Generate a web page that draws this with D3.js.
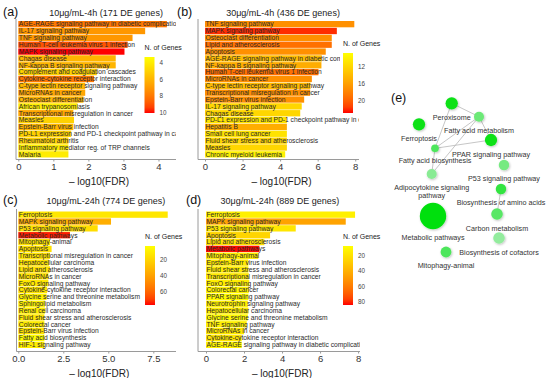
<!DOCTYPE html>
<html>
  <head>
    <script src="https://d3js.org/d3.v7.min.js"></script>
    <style>
      body { margin: 0; background: #fff; }
      text { font-family: Arial, "Liberation Sans", sans-serif; }
    </style>
  </head>
  <body>
    <script>
      var width = 550;
      var height = 378;

      // ---- data ----
      var termsA = ["AGE-RAGE signaling pathway in diabetic complications","IL-17 signaling pathway","TNF signaling pathway",
        "Human T-cell leukemia virus 1 infection","MAPK signaling pathway","Chagas disease","NF-kappa B signaling pathway",
        "Complement and coagulation cascades","Cytokine-cytokine receptor interaction","C-type lectin receptor signaling pathway",
        "MicroRNAs in cancer","Osteoclast differentiation","African trypanosomiasis","Transcriptional misregulation in cancer",
        "Measles","Epstein-Barr virus infection","PD-L1 expression and PD-1 checkpoint pathway in cancer","Rheumatoid arthritis",
        "Inflammatory mediator reg. of TRP channels","Malaria"];
      var fdrA = [4.24,3.62,3.26,3.12,3.03,2.78,2.78,2.24,2.16,1.91,1.91,1.86,1.69,1.57,1.59,1.57,1.51,1.43,1.43,1.43];
      var genesA = [8,7,7,9,10,6,6,5,8,6,6.5,6,4,6.5,5,6,5,5,4,4];

      var termsB = ["TNF signaling pathway","MAPK signaling pathway","Osteoclast differentiation","Lipid and atherosclerosis",
        "Apoptosis","AGE-RAGE signaling pathway in diabetic complications","NF-kappa B signaling pathway",
        "Human T-cell leukemia virus 1 infection","MicroRNAs in cancer","C-type lectin receptor signaling pathway",
        "Transcriptional misregulation in cancer","Epstein-Barr virus infection","IL-17 signaling pathway","Chagas disease",
        "PD-L1 expression and PD-1 checkpoint pathway in cancer","Hepatitis B","Small cell lung cancer",
        "Fluid shear stress and atherosclerosis","Measles","Chronic myeloid leukemia"];
      var fdrB = [7.95,7.02,6.75,6.75,6.43,6.22,6.2,6.04,5.69,5.62,5.6,5.28,5.15,5.07,4.36,4.36,4.36,4.36,4.36,4.27];
      var genesB = [17,22,17,19,17,14,15,19,17,14,17,17,12,12,11,15,11,12,12,10];

      var termsC = ["Ferroptosis","MAPK signaling pathway","P53 signaling pathway","Metabolic pathways","Mitophagy-animal",
        "Apoptosis","Transcriptional misregulation in cancer","Hepatocellular carcinoma","Lipid and atherosclerosis",
        "MicroRNAs in cancer","FoxO signaling pathway","Cytokine-cytokine receptor interaction",
        "Glycine serine and threonine metabolism","Sphingolipid metabolism","Renal cell carcinoma",
        "Fluid shear stress and atherosclerosis","Colorectal cancer","Epstein-Barr virus infection",
        "Fatty acid biosynthesis","HIF-1 signaling pathway"];
      var fdrC = [8.3,5.15,4.41,2.87,1.76,1.85,1.76,1.7,1.76,1.67,1.67,1.6,1.57,1.48,1.48,1.45,1.45,1.45,1.45,1.45];
      var genesC = [12,35,16,75,14,15,14,14,15,14,12,14,8,8,9,12,10,13,3,10];

      var termsD = ["Ferroptosis","MAPK signaling pathway","P53 signaling pathway","Apoptosis","Lipid and atherosclerosis",
        "Metabolic pathways","Mitophagy-animal","Epstein-Barr virus infection","Fluid shear stress and atherosclerosis",
        "Transcriptional misregulation in cancer","FoxO signaling pathway","Colorectal cancer","PPAR signaling pathway",
        "Neurotrophin signaling pathway","Hepatocellular carcinoma","Glycine serine and threonine metabolism",
        "TNF signaling pathway","MicroRNAs in cancer","Cytokine-cytokine receptor interaction",
        "AGE-RAGE signaling pathway in diabetic complications"];
      var fdrD = [7.84,7.35,4.72,3.37,3.07,2.81,2.75,2.23,2.23,2.25,2.28,2.25,2.23,2.2,2.23,2.2,2.14,2.0,1.88,1.88];
      var genesD = [14,45,18,25,20,83,15,17,16,17,15,13,10,14,15,10,14,17,18,13];

      var ticksA = [0,1,2,3,4];
      var ticksB = [0,2,4,6,8];
      var ticksC = [0,2.5,5,7.5];
      var ticksD = [0,2,4,6,8];
      var legendTicksA = [4,6,8,10];
      var legendTicksB = [12,16,20];
      var legendTicksC = [20,40,60];
      var legendTicksD = [20,40,60,80];

      // network (e)
      var nodeNames = ["Peroxisome","Fatty acid metabolism","Ferroptosis","PPAR signaling pathway","Fatty acid biosynthesis",
        "Adipocytokine signaling|pathway","P53 signaling pathway","Biosynthesis of amino acids","Metabolic pathways",
        "Carbon metabolism","Biosynthesis of cofactors","Mitophagy-animal"];
      var nodeGenes = [18,12,18,18,7,12,13,13,83,16,16,14];
      var nodeScore = [0.95,0.45,0.95,0.95,0.6,0.3,0.4,0.75,1.0,0.55,0.25,0.6];
      // layout position (network units)
      var nodeLx = [46.7,74,14,86,30,26.7,99,96,28,92,94,41];
      var nodeLy = [13.3,26.7,34.3,50,58.3,84,75,99,126,124,148,162];
      var edges = [[0,1],[1,4],[1,3],[1,5],[4,3],[4,5],[0,4],[7,9]];

      var svg = d3.select("body").append("svg")
        .attr("width", width).attr("height", height);

      var colorRamp = d3.interpolateLab("#ffff00", "#ff0000");

      var panels = [
        {tag:"(a)", tagX:3, title:"10\u03bcg/mL-4h (171 DE genes)", titleX:106, titleY:15.5,
         terms:termsA, fdr:fdrA, genes:genesA, ticks:ticksA, fmt:d3.format("d"),
         axisX:16, x0:18.3, x1:176, xmax:4.5, top:19, y0:21, y1:157.5, axisY:159.5,
         lt:legendTicksA, lDom:[3.3,10], lx:144.5, ly0:57, ly1:113, bg:false},
        {tag:"(b)", tagX:177, title:"30\u03bcg/mL-4h (436 DE genes)", titleX:283, titleY:15.5,
         terms:termsB, fdr:fdrB, genes:genesB, ticks:ticksB, fmt:d3.format("d"),
         axisX:198, x0:205, x1:359, xmax:8.2, top:19, y0:21, y1:157.5, axisY:159.5,
         lt:legendTicksB, lDom:[8.9,22.7], lx:343, ly0:53, ly1:113, bg:true},
        {tag:"(c)", tagX:3, title:"10\u03bcg/mL-24h (774 DE genes)", titleX:106, titleY:203.5,
         terms:termsC, fdr:fdrC, genes:genesC, ticks:ticksC, fmt:d3.format(".1f"),
         axisX:16.5, x0:18.3, x1:176, xmax:8.76, top:209, y0:211.5, y1:348, axisY:351.5,
         lt:legendTicksC, lDom:[2,77], lx:145, ly0:246, ly1:305, bg:false},
        {tag:"(d)", tagX:186, title:"30\u03bcg/mL-24h (889 DE genes)", titleX:280, titleY:203.5,
         terms:termsD, fdr:fdrD, genes:genesD, ticks:ticksD, fmt:d3.format("d"),
         axisX:198, x0:206, x1:360, xmax:8.1, top:209, y0:211.5, y1:348, axisY:351.5,
         lt:legendTicksD, lDom:[7.5,83.5], lx:343, ly0:246, ly1:305, bg:false}
      ];

      var defs = svg.append("defs");

      panels.forEach(function(p, i) {
        var g = svg.append("g");

        var xScale = d3.scaleLinear().domain([0, p.xmax]).range([p.x0, p.x1]);
        var yScale = d3.scaleBand().domain(p.terms).range([p.y0, p.y1]).paddingInner(0.08);
        var fill = d3.scaleSequential(colorRamp).domain(p.lDom);

        var clipId = "clip" + i;
        defs.append("clipPath").attr("id", clipId)
          .append("rect")
          .attr("x", p.axisX).attr("y", p.top)
          .attr("width", p.x1 - p.axisX).attr("height", p.axisY - p.top);

        g.append("text").attr("x", p.tagX).attr("y", p.titleY + 0.5)
          .attr("font-size", 12.5).attr("fill", "#111").text(p.tag);
        g.append("text").attr("x", p.titleX).attr("y", p.titleY)
          .attr("text-anchor", "middle").attr("font-size", 9).attr("fill", "#222").text(p.title);

        var body = g.append("g").attr("clip-path", "url(#" + clipId + ")");

        body.selectAll("rect.bar")
          .data(p.terms)
          .enter().append("rect")
            .attr("class", "bar")
            .attr("x", xScale(0))
            .attr("y", function(d) { return yScale(d); })
            .attr("width", function(d, j) { return xScale(p.fdr[j]) - xScale(0); })
            .attr("height", yScale.bandwidth())
            .attr("fill", function(d, j) { return fill(p.genes[j]); });

        body.selectAll("text.lab")
          .data(p.terms)
          .enter().append("text")
            .attr("class", "lab")
            .attr("x", xScale(0) + 0.5)
            .attr("y", function(d) { return yScale(d) + yScale.bandwidth() / 2; })
            .attr("dy", "0.35em")
            .attr("font-size", 6.7)
            .attr("fill", "#2a2a2a")
            .text(function(d) { return d; });

        // axis lines
        g.append("line").attr("x1", p.axisX).attr("x2", p.axisX)
          .attr("y1", p.top).attr("y2", p.axisY)
          .attr("stroke", "#9a9a9a").attr("stroke-width", 1);
        g.append("line").attr("x1", p.axisX).attr("x2", p.x1)
          .attr("y1", p.axisY).attr("y2", p.axisY)
          .attr("stroke", "#9a9a9a").attr("stroke-width", 1);

        var xAxis = g.append("g")
          .attr("transform", "translate(0," + p.axisY + ")")
          .call(d3.axisBottom(xScale).tickValues(p.ticks).tickFormat(p.fmt).tickSize(2).tickPadding(2));
        xAxis.select(".domain").remove();
        xAxis.selectAll("line").attr("stroke", "#9a9a9a");
        xAxis.selectAll("text").attr("font-size", 9.5).attr("fill", "#333")
          .style("font-family", "Arial, 'Liberation Sans', sans-serif");

        g.append("text")
          .attr("x", (p.axisX + p.x1) / 2 + 3)
          .attr("y", p.axisY + 25)
          .attr("text-anchor", "middle")
          .attr("font-size", 10)
          .attr("fill", "#222")
          .text("\u2013 log10(FDR)");

        // legend
        var lg = g.append("g");
        if (p.bg) {
          lg.append("rect").attr("x", p.lx - 3).attr("y", p.ly0 - 15)
            .attr("width", 44).attr("height", p.ly1 - p.ly0 + 18).attr("fill", "#fff");
        }
        lg.append("text").attr("x", p.lx).attr("y", p.ly0 - 7)
          .attr("font-size", 7).attr("fill", "#222").text("N. of Genes");

        var gradId = "grad" + i;
        var grad = defs.append("linearGradient").attr("id", gradId)
          .attr("x1", 0).attr("y1", 0).attr("x2", 0).attr("y2", 1);
        d3.range(0, 1.0001, 0.1).forEach(function(t) {
          grad.append("stop").attr("offset", t)
            .attr("stop-color", fill(p.lDom[0] + t * (p.lDom[1] - p.lDom[0])));
        });
        lg.append("rect").attr("x", p.lx).attr("y", p.ly0)
          .attr("width", 10).attr("height", p.ly1 - p.ly0)
          .attr("fill", "url(#" + gradId + ")");

        var ly = d3.scaleLinear().domain(p.lDom).range([p.ly0, p.ly1]);
        lg.selectAll("text.lt").data(p.lt).enter().append("text")
          .attr("class", "lt")
          .attr("x", p.lx + 15)
          .attr("y", function(d) { return ly(d); })
          .attr("dy", "0.35em")
          .attr("font-size", 6.3)
          .attr("fill", "#444")
          .text(function(d) { return d; });
      });

      // ---- panel (e): network ----
      var ge = svg.append("g");
      ge.append("text").attr("x", 391).attr("y", 102).attr("font-size", 12.5).attr("fill", "#111").text("(e)");

      var nx = d3.scaleLinear().domain([0, 100]).range([405, 505]);
      var ny = d3.scaleLinear().domain([0, 100]).range([90, 190]);
      var nr = d3.scaleSqrt().domain([0, 83]).range([0, 13.2]);
      var ncol = d3.scaleLinear().domain([0, 1]).range(["#c4f0cc", "#00e010"]).interpolate(d3.interpolateRgb);

      var shadow = defs.append("filter").attr("id", "shadow")
        .attr("x", "-50%").attr("y", "-50%").attr("width", "200%").attr("height", "200%");
      shadow.append("feDropShadow").attr("dx", 0.8).attr("dy", 1).attr("stdDeviation", 0.8)
        .attr("flood-color", "#000").attr("flood-opacity", 0.25);

      ge.selectAll("line.edge").data(edges).enter().append("line")
        .attr("class", "edge")
        .attr("x1", function(d) { return nx(nodeLx[d[0]]); })
        .attr("y1", function(d) { return ny(nodeLy[d[0]]); })
        .attr("x2", function(d) { return nx(nodeLx[d[1]]); })
        .attr("y2", function(d) { return ny(nodeLy[d[1]]); })
        .attr("stroke", "#b8b8b8").attr("stroke-width", 0.8);

      ge.selectAll("circle.node").data(nodeNames).enter().append("circle")
        .attr("class", "node")
        .attr("cx", function(d, j) { return nx(nodeLx[j]); })
        .attr("cy", function(d, j) { return ny(nodeLy[j]); })
        .attr("r", function(d, j) { return nr(nodeGenes[j]); })
        .attr("fill", function(d, j) { return ncol(nodeScore[j]); })
        .attr("filter", "url(#shadow)");

      var labels = ge.selectAll("text.nlab").data(nodeNames).enter().append("text")
        .attr("class", "nlab")
        .attr("x", function(d, j) { return nx(nodeLx[j]); })
        .attr("y", function(d, j) { return ny(nodeLy[j]) + nr(nodeGenes[j]) + 11; })
        .attr("text-anchor", "middle")
        .attr("font-size", 7.2)
        .attr("fill", "#333");
      labels.each(function(d) {
        var parts = d.split("|");
        var t = d3.select(this);
        parts.forEach(function(s, k) {
          t.append("tspan").attr("x", t.attr("x")).attr("dy", k === 0 ? 0 : "1.1em").text(s);
        });
      });
    </script>
  </body>
</html>
